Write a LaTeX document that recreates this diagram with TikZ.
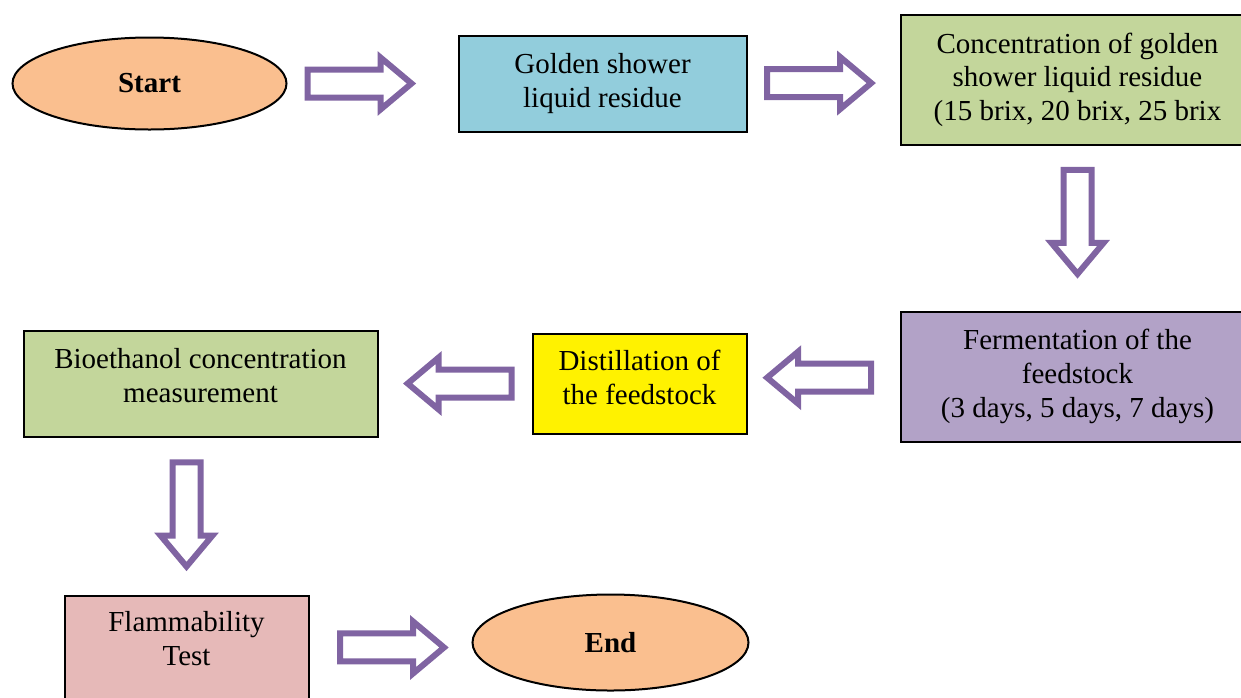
\documentclass[tikz,border=0pt]{standalone}
\usepackage{fontspec}
\setmainfont{Liberation Serif}
\usepackage{xcolor}
\usetikzlibrary{positioning, shapes.geometric, shapes.arrows, calc}

\definecolor{peach}{HTML}{FABF8F}
\definecolor{showerblue}{HTML}{92CDDC}
\definecolor{olivegreen}{HTML}{C3D69B}
\definecolor{lavender}{HTML}{B2A2C7}
\definecolor{rose}{HTML}{E6B9B8}
\definecolor{arrowpurple}{HTML}{8064A2}

% invisible depth that lifts the text inside a box
\newcommand{\liftby}[1]{\rule[-#1]{0pt}{#1}}

\begin{document}
\begin{tikzpicture}[x=0.5pt, y=-0.5pt,
    box/.style={draw, line width=1pt, align=center, inner sep=2pt, font=\fontsize{14.5}{16.8}\selectfont},
    terminal/.style={ellipse, draw, line width=1pt, minimum width=137pt, minimum height=46pt, font=\bfseries\fontsize{14.5}{16.8}\selectfont},
    blockarrow/.style={single arrow, anchor=tail, draw=arrowpurple, fill=white, line width=3pt, inner sep=5.5pt, minimum height=52pt, single arrow head extend=6pt, single arrow tip angle=80}]
    \useasboundingbox (0,0) rectangle (1241,697);

    \node[terminal, fill=peach] (start) at (149.5,83.5) {Start};
    \node[box, fill=showerblue, minimum width=144pt, minimum height=48pt] (golden) [right=85pt of start] {Golden shower\\liquid residue};
    \node[box, fill=olivegreen, minimum width=177pt, minimum height=65pt] (conc) [right=76pt of golden, yshift=2pt] {Concentration of golden\\shower liquid residue\\(15 brix, 20 brix, 25 brix};
    \node[box, fill=lavender, minimum width=177pt, minimum height=65pt] (ferm) [below=82.5pt of conc] {Fermentation of the\\feedstock\\(3 days, 5 days, 7 days)};
    \node[box, fill=yellow, minimum width=107pt, minimum height=50pt] (dist) [left=76pt of ferm, yshift=-3.5pt] {Distillation of\\the feedstock\liftby{6pt}};
    \node[box, fill=olivegreen, minimum width=177pt, minimum height=53pt] (bio) [left=76.5pt of dist] {Bioethanol concentration\\measurement\liftby{8pt}};
    \node[box, fill=rose, minimum width=122pt, minimum height=53pt] (flam) [below=78.5pt of bio, xshift=-7pt] {Flammability\\Test\liftby{10pt}};
    \node[terminal, fill=peach, minimum width=138pt, minimum height=48pt] (end) [right=81pt of flam, yshift=3pt] {End};

    % block arrows between the steps
    \node[blockarrow] (a1) at ($(start.east)!0.10!(golden.west)$) {};
    \node[blockarrow] (a2) at ($(golden.east)!0.11!(conc.west)$) {};
    \node[blockarrow, shape border rotate=270] (a3) at ($(conc.south)!0.13!(ferm.north)$) {};
    \node[blockarrow, shape border rotate=180] (a4) at ($(ferm.west)!0.167!(dist.east)$) {};
    \node[blockarrow, shape border rotate=180] (a5) at ($(dist.west)!0.11!(bio.east)$) {};
    \node[blockarrow, shape border rotate=270] (a6) at ($(flam.north |- bio.south)!0.14!(flam.north)$) {};
    \node[blockarrow] (a7) at ($(flam.east)!0.17!(end.west)$) {};
\end{tikzpicture}
\end{document}
